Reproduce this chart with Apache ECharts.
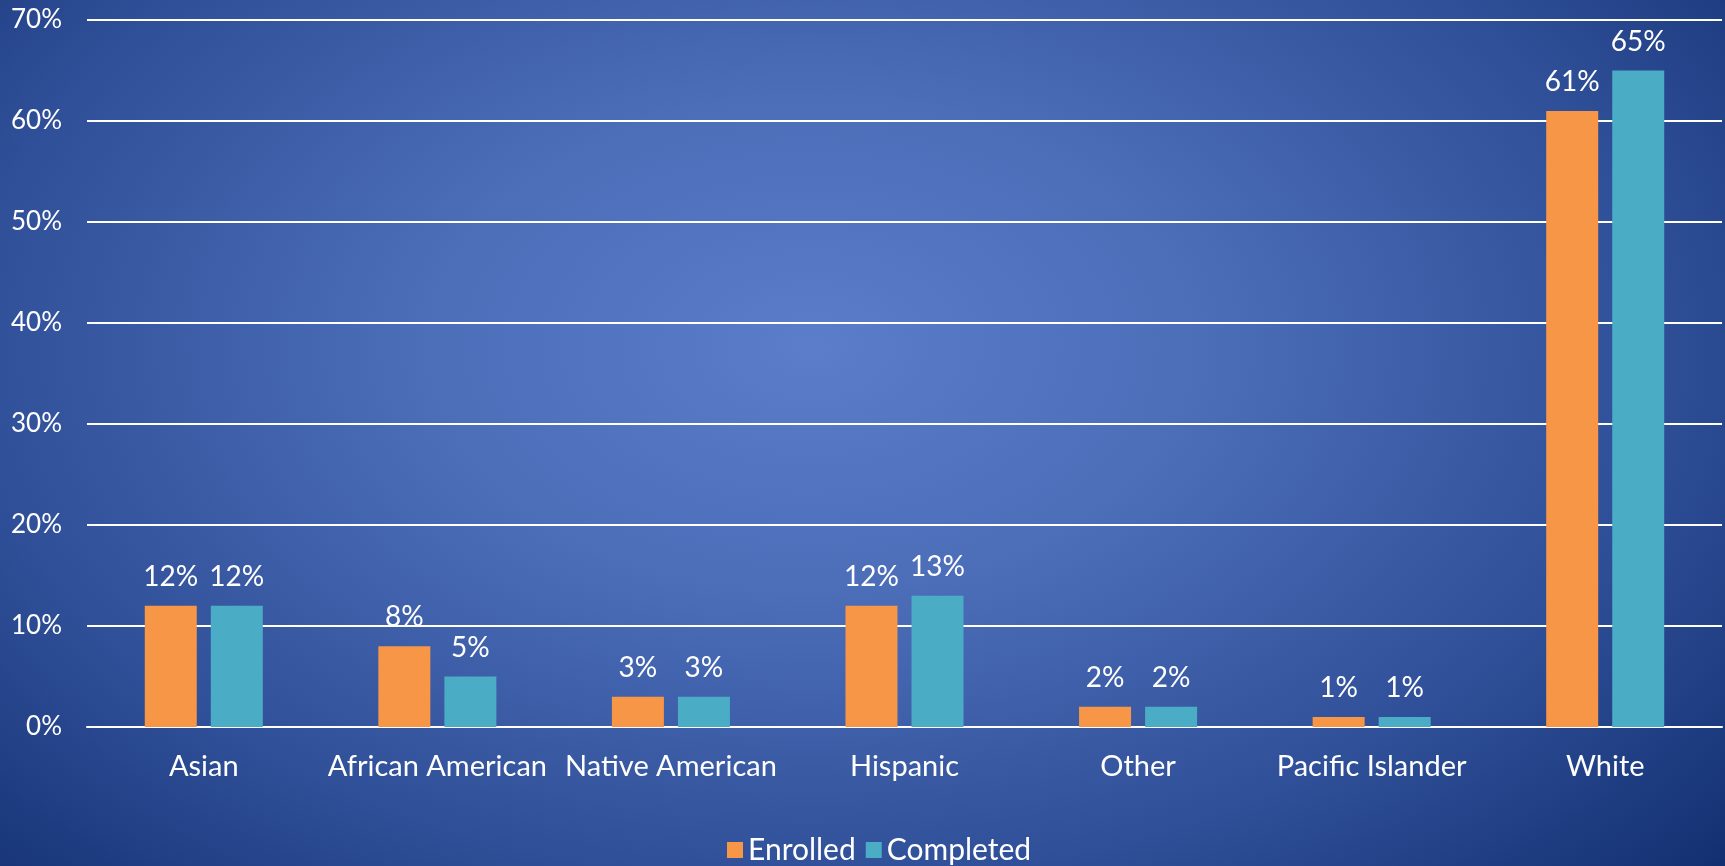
<!DOCTYPE html>
<html>
<head>
<meta charset="utf-8">
<script src="https://cdn.jsdelivr.net/npm/echarts@6/dist/echarts.min.js"></script>
<style>
html,body{margin:0;padding:0;width:1725px;height:866px;overflow:hidden;
background: radial-gradient(ellipse 75% 95% at 47% 40%, #5b7dca 0%, #4c6db8 30%, #2f4f98 65%, #0d2a6a 100%);}
#c{width:1725px;height:866px;}
</style>
</head>
<body>
<div id="c"></div>
<script>
const categories = ['Asian','African American','Native American','Hispanic','Other','Pacific Islander','White'];
const enrolled = [12, 8, 3, 12, 2, 1, 61];
const completed = [12, 5, 3, 13, 2, 1, 65];
const seriesNames = ['Enrolled','Completed'];

const chart = echarts.init(document.getElementById('c'));
const font = 'Lato, "Open Sans", sans-serif';
const lbl = {show:true, position:'top', distance:15, color:'#fff', fontSize:28, fontFamily:font, formatter:'{c}%'};
chart.setOption({
  backgroundColor: 'transparent',
  grid: {left: 87, right: 3, top: 20, bottom: 139},
  legend: {
    data: seriesNames, top: 830, left: 722,
    itemWidth: 16, itemHeight: 16, itemGap: 10,
    icon: 'rect',
    textStyle: {color:'#fff', fontSize:30, fontFamily:font}
  },
  xAxis: {
    type: 'category', data: categories,
    axisLine: {show:true, lineStyle:{color:'#fff', width:2}},
    axisTick: {show:false},
    axisLabel: {color:'#fff', fontSize:29, fontFamily:font, margin:25, interval:0}
  },
  yAxis: {
    type: 'value', min: 0, max: 70, interval: 10,
    axisLine: {show:false}, axisTick: {show:false},
    axisLabel: {color:'#fff', fontSize:26, fontFamily:font, margin:25, formatter:'{value}%'},
    splitLine: {lineStyle:{color:'#fff', width:2}}
  },
  series: [
    {name: seriesNames[0], type:'bar', data: enrolled, barWidth:52, barGap:'27%',
     itemStyle:{color:'#F79646'}, label: lbl},
    {name: seriesNames[1], type:'bar', data: completed, barWidth:52,
     itemStyle:{color:'#4BACC6'}, label: lbl}
  ]
});
</script>
</body>
</html>
